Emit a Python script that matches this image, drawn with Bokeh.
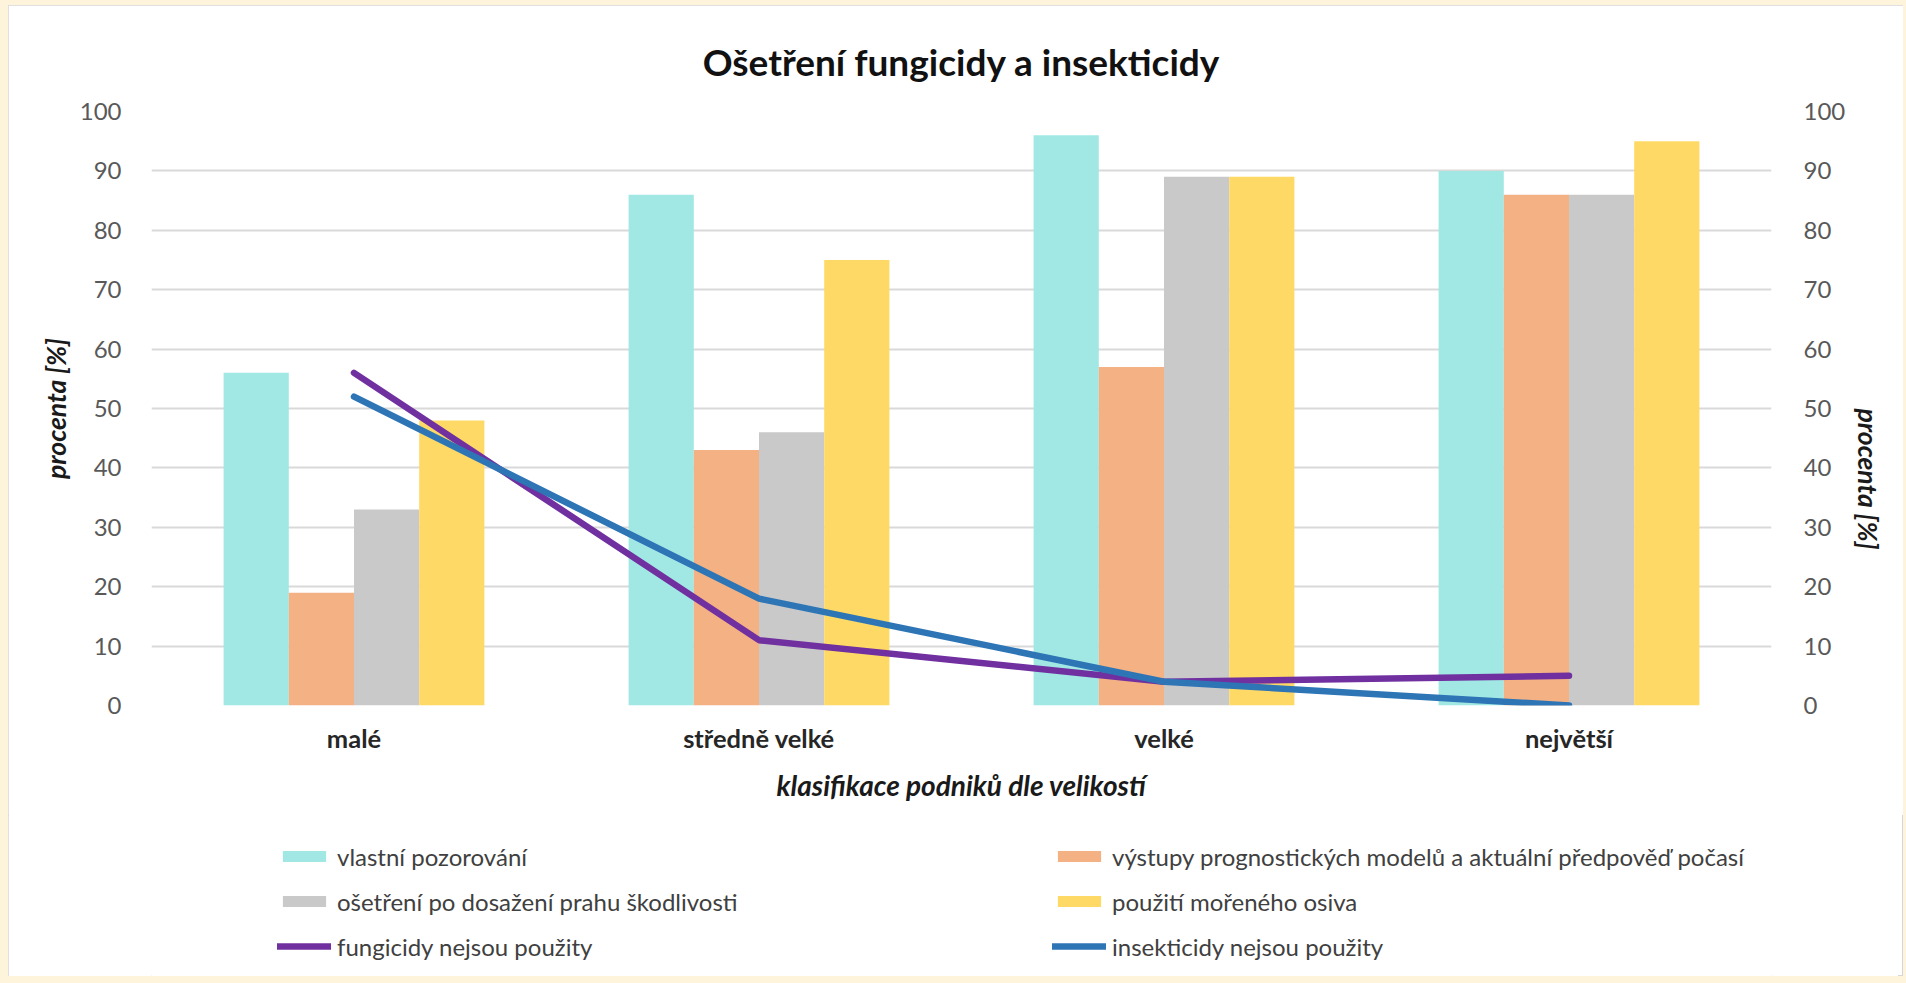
from bokeh.plotting import figure
from bokeh.layouts import column
from bokeh.models import (ColumnDataSource, FactorRange, Range1d, LinearAxis, Legend,
                          LegendItem, FixedTicker)
from bokeh.transform import dodge
from bokeh.embed import file_html
from bokeh.resources import INLINE

# ---- data ----
categories = ["malé", "středně velké", "velké", "největší"]
vlastni_pozorovani = [56, 86, 96, 90]
vystupy_modelu = [19, 43, 57, 86]
osetreni_prah = [33, 46, 89, 86]
morene_osivo = [48, 75, 89, 95]
fungicidy_nepouzity = [56, 11, 4, 5]
insekticidy_nepouzity = [52, 18, 4, 0]
y_ticks = [0, 10, 20, 30, 40, 50, 60, 70, 80, 90, 100]

series_labels = ["vlastní pozorování",
                 "výstupy prognostických modelů a aktuální předpověď počasí",
                 "ošetření po dosažení prahu škodlivosti",
                 "použití mořeného osiva",
                 "fungicidy nejsou použity",
                 "insekticidy nejsou použity"]

FONT = "Lato"
bar_colors = ["#A1E8E5", "#F4B183", "#C9C9C9", "#FFD966"]
line_colors = ["#7030A0", "#2E75B6"]
bar_keys = ["a", "b", "c", "d"]
line_keys = ["f", "i"]

src = ColumnDataSource(dict(cat=categories, a=vlastni_pozorovani, b=vystupy_modelu,
                            c=osetreni_prah, d=morene_osivo,
                            f=fungicidy_nepouzity, i=insekticidy_nepouzity))

p = figure(x_range=FactorRange(factors=categories), y_range=Range1d(0, 100),
           frame_width=1620, frame_height=594,
           min_border_left=143, min_border_right=127, min_border_top=106, min_border_bottom=110,
           output_backend="svg", toolbar_location=None,
           background_fill_color="white", border_fill_color="white", outline_line_color=None)

bw = 0.161
offs = [-1.5 * bw, -0.5 * bw, 0.5 * bw, 1.5 * bw]


def draw_series(fig):
    bars = []
    for key, off, col in zip(bar_keys, offs, bar_colors):
        bars.append(fig.vbar(x=dodge("cat", off, range=fig.x_range), top=key, width=bw,
                             source=src, fill_color=col, line_color=None))
    lines = []
    for key, col in zip(line_keys, line_colors):
        lines.append(fig.line(x="cat", y=key, source=src, line_color=col, line_width=6.5,
                              line_cap="round", line_join="round"))
    return bars, lines


draw_series(p)

# grid
p.xgrid.grid_line_color = None
p.ygrid.ticker = FixedTicker(ticks=y_ticks)
p.ygrid.grid_line_color = "#D9D9D9"
p.ygrid.grid_line_width = 2

# axes
def style_y(ax):
    ax.ticker = FixedTicker(ticks=y_ticks)
    ax.axis_line_color = None
    ax.major_tick_line_color = None
    ax.minor_tick_line_color = None
    ax.major_label_text_font = FONT
    ax.major_label_text_font_size = "24px"
    ax.major_label_text_color = "#595959"
    ax.major_label_standoff = 24
    ax.axis_label = "procenta [%]"
    ax.axis_label_text_font = FONT
    ax.axis_label_text_font_size = "26.5px"
    ax.axis_label_text_font_style = "bold italic"
    ax.axis_label_text_color = "#1a1a1a"
    ax.axis_label_standoff = 5

style_y(p.yaxis[0])
ra = LinearAxis()
style_y(ra)
ra.major_label_standoff = 26
ra.axis_label_standoff = 20
try:
    ra.axis_label_orientation = -1.5707963
except Exception:
    pass
p.add_layout(ra, "right")

xa = p.xaxis[0]
xa.axis_line_color = None
xa.major_tick_line_color = None
xa.major_label_text_font = FONT
xa.major_label_text_font_size = "25.5px"
xa.major_label_text_font_style = "bold"
xa.major_label_text_color = "#262626"
xa.major_label_standoff = 11
xa.axis_label = "klasifikace podniků dle velikostí"
xa.axis_label_text_font = FONT
xa.axis_label_text_font_size = "28px"
xa.axis_label_text_font_style = "bold italic"
xa.axis_label_text_color = "#1a1a1a"
xa.axis_label_standoff = 12

# title
p.title.text = "Ošetření fungicidy a insekticidy"
p.title.align = "center"
p.title.text_font = FONT
p.title.text_font_size = "37px"
p.title.text_font_style = "bold"
p.title.text_color = "#111111"
p.title.standoff = 56

# ---- legend strip below the chart (series re-drawn out of view, used as keys) ----
q = figure(x_range=p.x_range, y_range=Range1d(1000, 1001),
           frame_width=1620, frame_height=161,
           min_border_left=143, min_border_right=127, min_border_top=0, min_border_bottom=0,
           x_axis_type=None, y_axis_type=None,
           output_backend="svg", toolbar_location=None,
           background_fill_color="white", border_fill_color="white", outline_line_color=None)
try:
    q.title = None
except Exception:
    q.title.visible = False
q.grid.visible = False

kb, kl = draw_series(q)

items = [LegendItem(label=series_labels[0], renderers=[kb[0]]),
         LegendItem(label=series_labels[2], renderers=[kb[2]]),
         LegendItem(label=series_labels[4], renderers=[kl[0]]),
         LegendItem(label=series_labels[1], renderers=[kb[1]]),
         LegendItem(label=series_labels[3], renderers=[kb[3]]),
         LegendItem(label=series_labels[5], renderers=[kl[1]])]
leg = Legend(items=items, location=(126, 15), orientation="vertical", ncols=2,
             glyph_width=54, glyph_height=14, label_standoff=6, spacing=15,
             label_height=30, label_width=700, padding=0, margin=0,
             border_line_color=None, background_fill_alpha=0, label_text_font=FONT,
             label_text_font_size="24px", label_text_color="#404040")
q.add_layout(leg, "center")

layout = column(p, q, spacing=0,
                styles={"background-color": "white",
                        "outline": "1px solid #D6D6D6", "outline-offset": "-1px"})

html = file_html(layout, INLINE)
html = html.replace("</head>",
                    "<style>html,body{background:#FEF4DC;}body{padding:5px 8px !important;margin:0 !important;}</style></head>", 1)
open("out.html", "w").write(html)
